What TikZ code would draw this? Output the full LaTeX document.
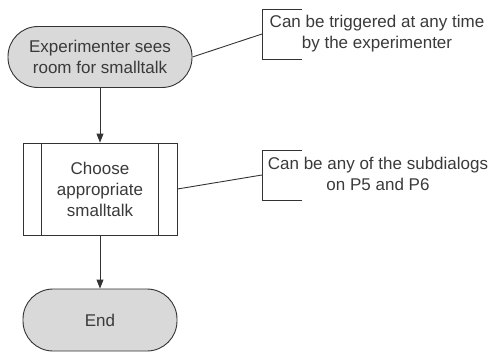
\documentclass[tikz,border=0pt]{standalone}
\usepackage{fontspec}
\setmainfont{Liberation Sans}
\usetikzlibrary{arrows.meta,calc}
\definecolor{linec}{HTML}{333333}
\definecolor{textc}{HTML}{3A3A3A}
\definecolor{fillc}{HTML}{D9D9D9}
\begin{document}
\begin{tikzpicture}[x=1pt,y=1pt,
  every node/.style={font=\fontsize{17}{21}\selectfont, text=textc, align=center},
  term/.style={draw=linec, line width=0.9pt, fill=fillc, rounded corners=30pt, inner sep=0pt},
  procbox/.style={draw=linec, line width=0.9pt, fill=white, inner sep=0pt, minimum width=154pt, minimum height=92pt},
  flow/.style={draw=linec, line width=0.9pt, -{Triangle[length=9pt,width=7pt]}},
  note/.style={draw=linec, line width=0.9pt},
  notetext/.style={inner sep=0pt}
]
\useasboundingbox (0,0) rectangle (492,-356);
% nodes
\node[term, minimum width=184pt, minimum height=61pt] (start) at (100,-57) {Experimenter sees\\room for smalltalk};
\node[procbox] (choose) at (100,-189) {Choose\\appropriate\\smalltalk};
\draw[note] ($(choose.north west)+(19,0)$) -- ($(choose.south west)+(19,0)$);
\draw[note] ($(choose.north east)+(-19,0)$) -- ($(choose.south east)+(-19,0)$);
\node[term, minimum width=154pt, minimum height=62pt] (end) at (100,-320) {End};
% annotations
\coordinate (b1) at (262,-34);
\draw[note] (302,-9) -- (262,-9) -- (262,-59) -- (302,-59);
\node[notetext] (t1) at (377,-34) {Can be triggered at any time\\by the experimenter};
\coordinate (b2) at (262,-175);
\draw[note] (302,-150) -- (262,-150) -- (262,-200) -- (302,-200);
\node[notetext] (t2) at (378,-174) {Can be any of the subdialogs\\on P5 and P6};
% connectors
\draw[flow] (start.south) -- (choose.north);
\draw[flow] (choose.south) -- (end.north);
\draw[note] (start.east) -- (b1);
\draw[note] (choose.east) -- (b2);
\end{tikzpicture}
\end{document}
